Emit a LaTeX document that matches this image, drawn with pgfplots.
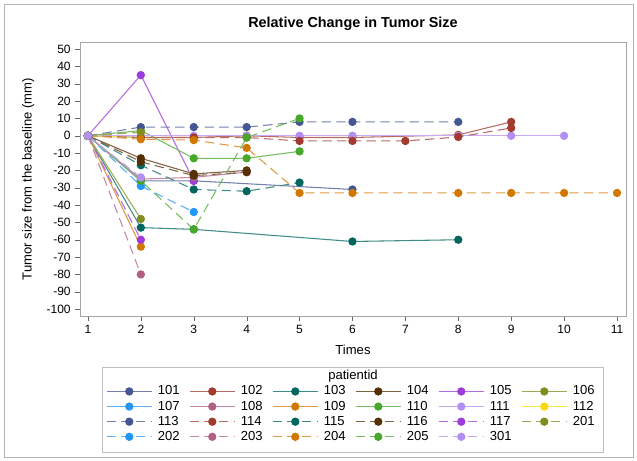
\documentclass[border=0pt]{standalone}
\usepackage{pgfplots}
\pgfplotsset{compat=1.18}
\usepackage{fontspec}
\setmainfont{Liberation Sans}
\definecolor{cA}{HTML}{445694}
\definecolor{cB}{HTML}{A23A2E}
\definecolor{cC}{HTML}{01665E}
\definecolor{cD}{HTML}{543005}
\definecolor{cE}{HTML}{9D3CDB}
\definecolor{cF}{HTML}{7F8E1F}
\definecolor{cG}{HTML}{2597FA}
\definecolor{cH}{HTML}{B26084}
\definecolor{cI}{HTML}{D17800}
\definecolor{cJ}{HTML}{47A82A}
\definecolor{cK}{HTML}{B38EF3}
\definecolor{cL}{HTML}{F9DA04}
\pgfplotsset{
  sol/.style={color=#1!75!white, line width=0.8pt, solid, mark=*, mark size=2.7pt,
     mark options={solid, fill=#1, draw=#1}},
  das/.style={color=#1!75!white, line width=0.8pt, dash pattern=on 7pt off 4pt, mark=*, mark size=2.7pt,
     mark options={solid, fill=#1, draw=#1}},
}
\begin{document}
\begin{tikzpicture}
\begin{axis}[
  at={(0pt,0pt)}, anchor=south west,
  scale only axis, width=409.5pt, height=205.5pt,
  xmin=0.85, xmax=11.17, ymin=-104, ymax=54.1,
  xtick={1,...,11}, ytick={-100,-90,...,50},
  tick pos=left, tick align=outside, major tick length=3.5pt,
  axis line style={gray!70}, tick style={gray!80!black},
  font=\fontsize{9}{10}\selectfont,
  /pgf/number format/assume math mode=true,
  title={\bfseries Relative Change in Tumor Size},
  title style={at={(0.5,1.037)}, anchor=center, font=\fontsize{10.8}{12}\selectfont},
  xlabel={Times}, ylabel={Tumor size from the baseline  (mm)},
  xlabel style={at={(0.5,-0.124)}, anchor=center, font=\fontsize{9.8}{11}\selectfont},
  ylabel style={at={(-0.095,0.5)}, anchor=center, font=\fontsize{9.8}{11}\selectfont},
  legend columns=6,
  legend style={at={(0.497,-0.237)}, anchor=north, draw=none, fill=none,
     font=\fontsize{9.8}{11}\selectfont, column sep=2.5pt, row sep=0pt,
     nodes={inner sep=1.5pt},
     /tikz/every even column/.append style={column sep=5.6pt}},
  legend cell align=left,
  legend image code/.code={\draw[mark repeat=2,mark phase=2] plot coordinates {(0pt,0pt)(17pt,0pt)(34pt,0pt)};},
]
\addplot[sol=cA] coordinates {(1,0)(2,-26)(3,-26)(6,-31)};
\addlegendentry{101}
\addplot[sol=cB] coordinates {(1,0)(2,-1)(3,-1)(4,0)(5,-1)(6,-1)(8,0.5)(9,8)};
\addlegendentry{102}
\addplot[sol=cC] coordinates {(1,0)(2,-53)(3,-54)(6,-61)(8,-60)};
\addlegendentry{103}
\addplot[sol=cD] coordinates {(1,0)(2,-13)(3,-22)(4,-20)};
\addlegendentry{104}
\addplot[sol=cE] coordinates {(1,0)(2,35)(3,-26)};
\addlegendentry{105}
\addplot[sol=cF] coordinates {(1,0)(2,-48)};
\addlegendentry{106}
\addplot[sol=cG] coordinates {(1,0)(2,-1)};
\addlegendentry{107}
\addplot[sol=cH] coordinates {(1,0)(2,-25)(3,-24)(4,-21)};
\addlegendentry{108}
\addplot[sol=cI] coordinates {(1,0)(2,-64)};
\addlegendentry{109}
\addplot[sol=cJ] coordinates {(1,0)(2,3)(3,-13)(4,-13)(5,-9)};
\addlegendentry{110}
\addplot[sol=cK] coordinates {(1,0)(2,0)(3,0)(4,0)(5,0)(6,0)(8,0)(9,0)(10,0)};
\addlegendentry{111}
\addplot[sol=cL] coordinates {(1,0)(2,-1)};
\addlegendentry{112}
\addplot[das=cA] coordinates {(1,0)(2,5)(3,5)(4,5)(5,8)(6,8)(8,8)};
\addlegendentry{113}
\addplot[das=cB] coordinates {(1,0)(2,-1)(3,-1)(4,-1)(5,-3)(6,-3)(7,-3)(8,-0.7)(9,4.5)};
\addlegendentry{114}
\addplot[das=cC] coordinates {(1,0)(2,-17)(3,-31)(4,-32)(5,-27)};
\addlegendentry{115}
\addplot[das=cD] coordinates {(1,0)(2,-15)(3,-23)(4,-21)};
\addlegendentry{116}
\addplot[das=cE] coordinates {(1,0)(2,-60)};
\addlegendentry{117}
\addplot[das=cF] coordinates {(1,0)(2,2)};
\addlegendentry{201}
\addplot[das=cG] coordinates {(1,0)(2,-29)(3,-44)};
\addlegendentry{202}
\addplot[das=cH] coordinates {(1,0)(2,-80)};
\addlegendentry{203}
\addplot[das=cI] coordinates {(1,0)(2,-2)(3,-2.5)(4,-7)(5,-33)(6,-33)(8,-33)(9,-33)(10,-33)(11,-33)};
\addlegendentry{204}
\addplot[das=cJ] coordinates {(1,0)(2,-26)(3,-54)(4,-1)(5,10)};
\addlegendentry{205}
\addplot[das=cK] coordinates {(1,0)(2,-24)};
\addlegendentry{301}
\end{axis}
\begin{scope}[shift={(-60pt,237pt)},x=0.75pt,y=-0.75pt]
\useasboundingbox (0,0) rectangle (637,461);
\draw[gray!60] (4,4) rectangle (633,457);
\draw[gray!50] (102,367) rectangle (603,452);
\node[font=\fontsize{9.8}{11}\selectfont] at (353,376) {patientid};
\end{scope}
\end{tikzpicture}
\end{document}
